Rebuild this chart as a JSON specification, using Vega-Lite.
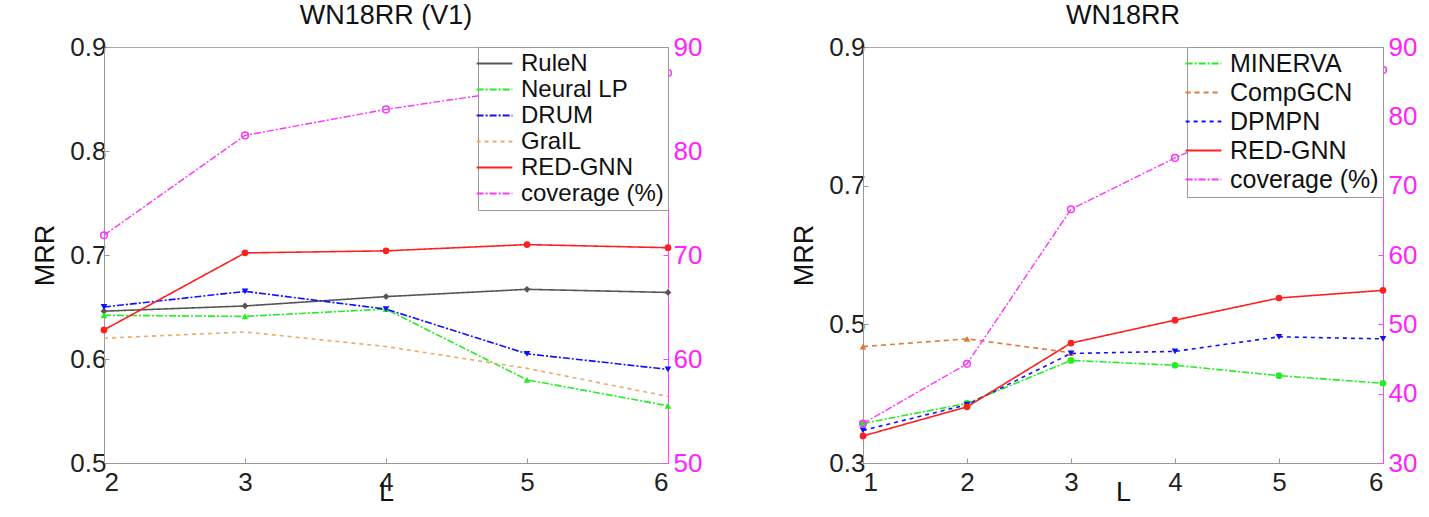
{
  "$schema": "https://vega.github.io/schema/vega-lite/v6.json",
  "background": "white",
  "padding": {"left": 31, "top": 1, "right": 5, "bottom": 0},
  "config": {
    "font": "Liberation Sans",
    "view": {"stroke": "#aaaaaa"},
    "axis": {"grid": false, "labelFontSize": 26, "labelColor": "#222", "titleFontSize": 27, "titleFontWeight": "normal", "titleColor": "#111", "domainColor": "#999", "tickColor": "#999", "tickSize": 5},
    "title": {"fontSize": 27, "fontWeight": "normal", "color": "#111", "offset": 0},
    "legend": {"orient": "top-right", "offset": 0, "strokeColor": "#999", "fillColor": "white", "padding": 4, "labelFontSize": 24, "labelColor": "#111", "labelOffset": 14, "symbolType": "M-1.6,0H1.6", "symbolSize": 500, "symbolStrokeWidth": 2, "rowPadding": 1, "title": null}
  },
  "datasets": {
    "mrrA": [
      {"method": "RuleN", "L": 2, "mrr": 0.646}, {"method": "RuleN", "L": 3, "mrr": 0.651}, {"method": "RuleN", "L": 4, "mrr": 0.660}, {"method": "RuleN", "L": 5, "mrr": 0.667}, {"method": "RuleN", "L": 6, "mrr": 0.664},
      {"method": "Neural LP", "L": 2, "mrr": 0.642}, {"method": "Neural LP", "L": 3, "mrr": 0.641}, {"method": "Neural LP", "L": 4, "mrr": 0.648}, {"method": "Neural LP", "L": 5, "mrr": 0.580}, {"method": "Neural LP", "L": 6, "mrr": 0.555},
      {"method": "DRUM", "L": 2, "mrr": 0.650}, {"method": "DRUM", "L": 3, "mrr": 0.665}, {"method": "DRUM", "L": 4, "mrr": 0.648}, {"method": "DRUM", "L": 5, "mrr": 0.605}, {"method": "DRUM", "L": 6, "mrr": 0.590},
      {"method": "GraIL", "L": 2, "mrr": 0.620}, {"method": "GraIL", "L": 3, "mrr": 0.626}, {"method": "GraIL", "L": 4, "mrr": 0.612}, {"method": "GraIL", "L": 5, "mrr": 0.591}, {"method": "GraIL", "L": 6, "mrr": 0.564},
      {"method": "RED-GNN", "L": 2, "mrr": 0.628}, {"method": "RED-GNN", "L": 3, "mrr": 0.702}, {"method": "RED-GNN", "L": 4, "mrr": 0.704}, {"method": "RED-GNN", "L": 5, "mrr": 0.710}, {"method": "RED-GNN", "L": 6, "mrr": 0.707}
    ],
    "covA": [
      {"method": "coverage (%)", "L": 2, "cov": 71.9}, {"method": "coverage (%)", "L": 3, "cov": 81.5}, {"method": "coverage (%)", "L": 4, "cov": 84.0}, {"method": "coverage (%)", "L": 5, "cov": 86.0}, {"method": "coverage (%)", "L": 6, "cov": 87.5}
    ],
    "mrrB": [
      {"method": "MINERVA", "L": 1, "mrr": 0.357}, {"method": "MINERVA", "L": 2, "mrr": 0.386}, {"method": "MINERVA", "L": 3, "mrr": 0.448}, {"method": "MINERVA", "L": 4, "mrr": 0.441}, {"method": "MINERVA", "L": 5, "mrr": 0.426}, {"method": "MINERVA", "L": 6, "mrr": 0.415},
      {"method": "CompGCN", "L": 1, "mrr": 0.468}, {"method": "CompGCN", "L": 2, "mrr": 0.479}, {"method": "CompGCN", "L": 3, "mrr": 0.459},
      {"method": "DPMPN", "L": 1, "mrr": 0.347}, {"method": "DPMPN", "L": 2, "mrr": 0.384}, {"method": "DPMPN", "L": 3, "mrr": 0.458}, {"method": "DPMPN", "L": 4, "mrr": 0.461}, {"method": "DPMPN", "L": 5, "mrr": 0.482}, {"method": "DPMPN", "L": 6, "mrr": 0.479},
      {"method": "RED-GNN", "L": 1, "mrr": 0.339}, {"method": "RED-GNN", "L": 2, "mrr": 0.381}, {"method": "RED-GNN", "L": 3, "mrr": 0.473}, {"method": "RED-GNN", "L": 4, "mrr": 0.506}, {"method": "RED-GNN", "L": 5, "mrr": 0.538}, {"method": "RED-GNN", "L": 6, "mrr": 0.549}
    ],
    "covB": [
      {"method": "coverage (%)", "L": 1, "cov": 35.7}, {"method": "coverage (%)", "L": 2, "cov": 44.3}, {"method": "coverage (%)", "L": 3, "cov": 66.6}, {"method": "coverage (%)", "L": 4, "cov": 74.0}, {"method": "coverage (%)", "L": 5, "cov": 80.5}, {"method": "coverage (%)", "L": 6, "cov": 86.7}
    ]
  },
  "resolve": {"scale": {"color": "independent", "strokeDash": "independent", "shape": "independent"}, "legend": {"color": "independent", "strokeDash": "independent"}},
  "spacing": 87,
  "hconcat": [
    {
      "width": 564, "height": 416,
      "title": "WN18RR (V1)",
      "resolve": {"scale": {"y": "independent"}},
      "layer": [
        {
          "data": {"name": "mrrA"},
          "encoding": {
            "x": {"field": "L", "type": "quantitative", "scale": {"domain": [2, 6], "nice": false}, "axis": {"values": [2, 3, 4, 5, 6], "format": "d", "title": "L", "titlePadding": -16, "labelPadding": 11, "tickSize": -5}},
            "y": {"field": "mrr", "type": "quantitative", "scale": {"domain": [0.5, 0.9], "nice": false}, "axis": {"values": [0.5, 0.6, 0.7, 0.8, 0.9], "format": ".1f", "title": "MRR", "titlePadding": 10, "labelPadding": 3, "tickSize": -5}},
            "color": {"field": "method", "type": "nominal", "scale": {"domain": ["RuleN", "Neural LP", "DRUM", "GraIL", "RED-GNN", "coverage (%)"], "range": ["#555555", "#22ee22", "#1010ff", "#f0a868", "#ff1f1f", "#ff33ff"]}, "legend": {"labelFontSize": 24, "rowPadding": 1}}
          },
          "layer": [
            {"mark": {"type": "line", "strokeWidth": 1.6}, "encoding": {"strokeDash": {"field": "method", "type": "nominal", "scale": {"domain": ["RuleN", "Neural LP", "DRUM", "GraIL", "RED-GNN", "coverage (%)"], "range": [[1, 0], [7, 2, 2, 2], [7, 2, 2, 2], [4, 4], [1, 0], [7, 2, 2, 2]]}}}},
            {"transform": [{"filter": "datum.method !== 'GraIL'"}], "mark": {"type": "point", "filled": true, "size": 45, "opacity": 1}, "encoding": {"shape": {"field": "method", "type": "nominal", "scale": {"domain": ["RuleN", "Neural LP", "DRUM", "RED-GNN"], "range": ["diamond", "triangle-up", "triangle-down", "circle"]}, "legend": null}}}
          ]
        },
        {
          "data": {"name": "covA"},
          "encoding": {
            "x": {"field": "L", "type": "quantitative"},
            "y": {"field": "cov", "type": "quantitative", "scale": {"domain": [50, 90], "nice": false}, "axis": {"orient": "right", "values": [50, 60, 70, 80, 90], "title": null, "labelColor": "#ff22ff", "domainColor": "#ff44ff", "tickColor": "#ff44ff", "tickSize": -5, "labelPadding": 10, "labelFontSize": 26}},
            "color": {"field": "method", "type": "nominal"}
          },
          "layer": [
            {"mark": {"type": "line", "strokeWidth": 1.4}, "encoding": {"strokeDash": {"field": "method", "type": "nominal"}}},
            {"mark": {"type": "point", "filled": false, "size": 45, "strokeWidth": 1.5, "opacity": 1}}
          ]
        }
      ]
    },
    {
      "width": 520, "height": 416,
      "title": "WN18RR",
      "resolve": {"scale": {"y": "independent"}},
      "layer": [
        {
          "data": {"name": "mrrB"},
          "encoding": {
            "x": {"field": "L", "type": "quantitative", "scale": {"domain": [1, 6], "nice": false}, "axis": {"values": [1, 2, 3, 4, 5, 6], "format": "d", "title": "L", "titlePadding": -16, "labelPadding": 11, "tickSize": -5}},
            "y": {"field": "mrr", "type": "quantitative", "scale": {"domain": [0.3, 0.9], "nice": false}, "axis": {"values": [0.3, 0.5, 0.7, 0.9], "format": ".1f", "title": "MRR", "titlePadding": 10, "labelPadding": 3, "tickSize": -5}},
            "color": {"field": "method", "type": "nominal", "scale": {"domain": ["MINERVA", "CompGCN", "DPMPN", "RED-GNN", "coverage (%)"], "range": ["#22ee22", "#e07a3a", "#1010ff", "#ff1f1f", "#ff33ff"]}, "legend": {"labelFontSize": 25, "rowPadding": 3}}
          },
          "layer": [
            {"mark": {"type": "line", "strokeWidth": 1.6}, "encoding": {"strokeDash": {"field": "method", "type": "nominal", "scale": {"domain": ["MINERVA", "CompGCN", "DPMPN", "RED-GNN", "coverage (%)"], "range": [[7, 2, 2, 2], [5, 4], [4, 4], [1, 0], [7, 2, 2, 2]]}}}},
            {"mark": {"type": "point", "filled": true, "size": 45, "opacity": 1}, "encoding": {"shape": {"field": "method", "type": "nominal", "scale": {"domain": ["MINERVA", "CompGCN", "DPMPN", "RED-GNN"], "range": ["circle", "triangle-up", "triangle-down", "circle"]}, "legend": null}}}
          ]
        },
        {
          "data": {"name": "covB"},
          "encoding": {
            "x": {"field": "L", "type": "quantitative"},
            "y": {"field": "cov", "type": "quantitative", "scale": {"domain": [30, 90], "nice": false}, "axis": {"orient": "right", "values": [30, 40, 50, 60, 70, 80, 90], "title": null, "labelColor": "#ff22ff", "domainColor": "#ff44ff", "tickColor": "#ff44ff", "tickSize": -5, "labelPadding": 10, "labelFontSize": 26}},
            "color": {"field": "method", "type": "nominal"}
          },
          "layer": [
            {"mark": {"type": "line", "strokeWidth": 1.4}, "encoding": {"strokeDash": {"field": "method", "type": "nominal"}}},
            {"mark": {"type": "point", "filled": false, "size": 45, "strokeWidth": 1.5, "opacity": 1}}
          ]
        }
      ]
    }
  ]
}
